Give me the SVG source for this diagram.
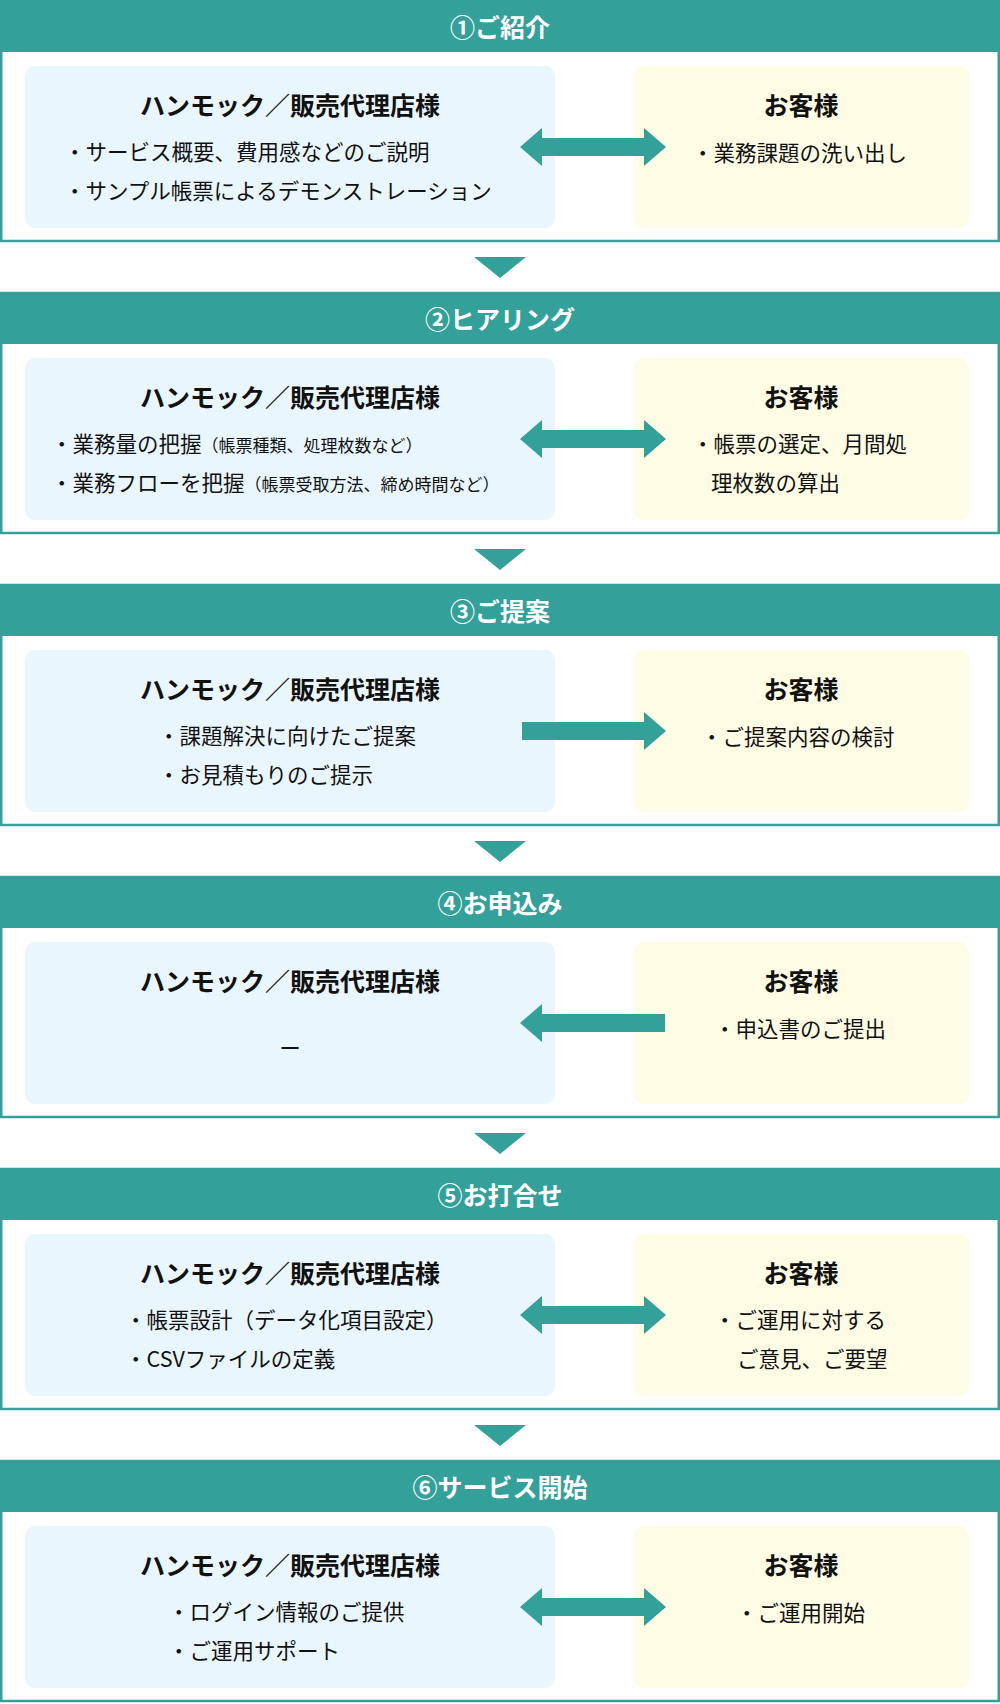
<svg xmlns="http://www.w3.org/2000/svg" width="1000" height="1704" viewBox="0 0 1000 1704">
<style>
text{font-family:"Noto Sans CJK JP","Noto Sans",sans-serif;fill:#111}
.hd{fill:#33a09a}.bx{fill:#fff;stroke:#33a09a;stroke-width:2.5}
.lp{fill:#eaf6fd}.rp{fill:#fefce5}
.ht{font-size:25px;font-weight:700;fill:#fff;text-anchor:middle}
.tt{font-size:25px;font-weight:700;text-anchor:middle}
.b{font-size:21.5px}.s{font-size:17px}
.ar{fill:#33a09a}
</style>
<defs>
<g id="sec">
<rect class="bx" x="1.25" y="1" width="997.5" height="240"/>
<rect class="hd" x="0" y="0" width="1000" height="52"/>
<rect class="lp" x="25" y="66" width="530" height="162" rx="10"/>
<rect class="rp" x="634" y="66" width="335" height="162" rx="10"/>
<text class="tt" x="290" y="115">ハンモック／販売代理店様</text>
<text class="tt" x="801" y="115">お客様</text>
</g>
<path id="dbl" d="M520 147 L542 128 L542 138 L644 138 L644 128 L666 147 L644 166 L644 156 L542 156 L542 166 Z"/>
<path id="rgt" d="M522 138 L644 138 L644 128 L666 147 L644 166 L644 156 L522 156 Z"/>
<path id="lft" d="M520 147 L542 128 L542 138 L665 138 L665 156 L542 156 L542 166 Z"/>
<path id="tri" d="M474 257 L526 257 L500 278 Z"/>
</defs>
<g id="s1"><use href="#sec"/><text class="ht" x="500" y="37">①ご紹介</text>
<text class="b" x="64" y="160">・サービス概要、費用感などのご説明</text>
<text class="b" x="64" y="199">・サンプル帳票によるデモンストレーション</text>
<text class="b" x="692" y="161">・業務課題の洗い出し</text></g>
<g id="s2" transform="translate(0,292)"><use href="#sec"/><text class="ht" x="500" y="37">②ヒアリング</text>
<text class="b" x="51" y="160">・業務量の把握<tspan class="s">（帳票種類、処理枚数など）</tspan></text>
<text class="b" x="51" y="199">・業務フローを把握<tspan class="s">（帳票受取方法、締め時間など）</tspan></text>
<text class="b" x="692" y="160">・帳票の選定、月間処</text>
<text class="b" x="711" y="199">理枚数の算出</text></g>
<g id="s3" transform="translate(0,584)"><use href="#sec"/><text class="ht" x="500" y="37">③ご提案</text>
<text class="b" x="158" y="160">・課題解決に向けたご提案</text>
<text class="b" x="158" y="199">・お見積もりのご提示</text>
<text class="b" x="701" y="161">・ご提案内容の検討</text></g>
<g id="s4" transform="translate(0,876)"><use href="#sec"/><text class="ht" x="500" y="37">④お申込み</text>
<text class="b" x="290" y="180" text-anchor="middle">ー</text>
<text class="b" x="714" y="161">・申込書のご提出</text></g>
<g id="s5" transform="translate(0,1168)"><use href="#sec"/><text class="ht" x="500" y="37">⑤お打合せ</text>
<text class="b" x="125" y="160">・帳票設計（データ化項目設定）</text>
<text class="b" x="125" y="199">・CSVファイルの定義</text>
<text class="b" x="714" y="160">・ご運用に対する</text>
<text class="b" x="737" y="199">ご意見、ご要望</text></g>
<g id="s6" transform="translate(0,1460)"><use href="#sec"/><text class="ht" x="500" y="37">⑥サービス開始</text>
<text class="b" x="168" y="160">・ログイン情報のご提供</text>
<text class="b" x="168" y="199">・ご運用サポート</text>
<text class="b" x="736" y="161">・ご運用開始</text></g>
<g id="connectors" class="ar">
<use href="#dbl"/><use href="#tri"/>
<use href="#dbl" y="292"/><use href="#tri" y="292"/>
<use href="#rgt" y="584"/><use href="#tri" y="584"/>
<use href="#lft" y="876"/><use href="#tri" y="876"/>
<use href="#dbl" y="1168"/><use href="#tri" y="1168"/>
<use href="#dbl" y="1460"/>
</g>
</svg>
